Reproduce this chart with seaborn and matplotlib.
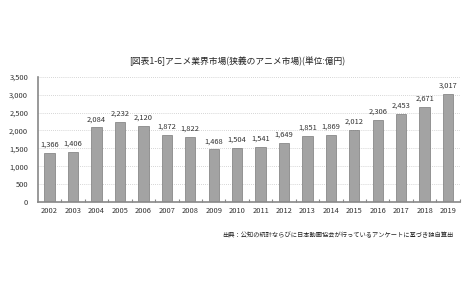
import matplotlib
matplotlib.use("Agg")
import matplotlib.pyplot as plt
import seaborn as sns
import pandas as pd
from matplotlib.ticker import FixedLocator, FuncFormatter

years = [str(y) for y in range(2002, 2020)]
values = [1366, 1406, 2084, 2232, 2120, 1872, 1822, 1468, 1504, 1541,
          1649, 1851, 1869, 2012, 2306, 2453, 2671, 3017]
title = "[図表1-6]アニメ業界市場(狭義のアニメ市場)(単位:億円)"
source = "出典：公知の統計ならびに日本動画協会が行っているアンケートに基づき独自算出"

sns.set_theme(style="white")
plt.rcParams['font.family'] = ['Noto Sans CJK JP', 'DejaVu Sans']

df = pd.DataFrame({"year": years, "value": values})

fig = plt.figure(figsize=(4.74, 2.86), dpi=100)
ax = fig.add_axes([0.080, 0.294, 0.890, 0.437])
sns.barplot(data=df, x="year", y="value", color="#a3a3a3", width=0.44,
            edgecolor="#7a7a7a", linewidth=0.5, saturation=1, ax=ax)

ax.set_ylim(0, 3500)
ax.set_xlim(-0.5, len(years) - 0.5)
ax.set_yticks(range(0, 3501, 500))
ax.yaxis.set_major_formatter(FuncFormatter(lambda v, p: f"{int(v):,}"))
ax.yaxis.grid(True, linestyle=(0, (1, 1.5)), color="#c8c8c8", linewidth=0.6)
ax.set_axisbelow(True)
ax.set_xlabel("")
ax.set_ylabel("")
for s in ["top", "right"]:
    ax.spines[s].set_visible(False)
for s in ["left", "bottom"]:
    ax.spines[s].set_color("#888888")
    ax.spines[s].set_linewidth(1.2)
ax.tick_params(axis="both", labelsize=5.4, colors="#333333", length=0, pad=4)
ax.tick_params(axis="y", pad=7)
ax.xaxis.set_minor_locator(FixedLocator([i + 0.5 for i in range(len(years))]))
ax.tick_params(axis="x", which="minor", direction="in", length=2, width=0.8, color="#888888", bottom=True)

for i, v in enumerate(values):
    ax.text(i, v + 120, f"{v:,}", ha="center", va="bottom", fontsize=5.4, color="#333333")

fig.text(0.5, 0.787, title, ha="center", va="center", fontsize=6.3, color="#222222")
fig.text(0.956, 0.178, source, ha="right", va="center", fontsize=4.5, color="#222222")

fig.savefig("out.png", dpi=100)
